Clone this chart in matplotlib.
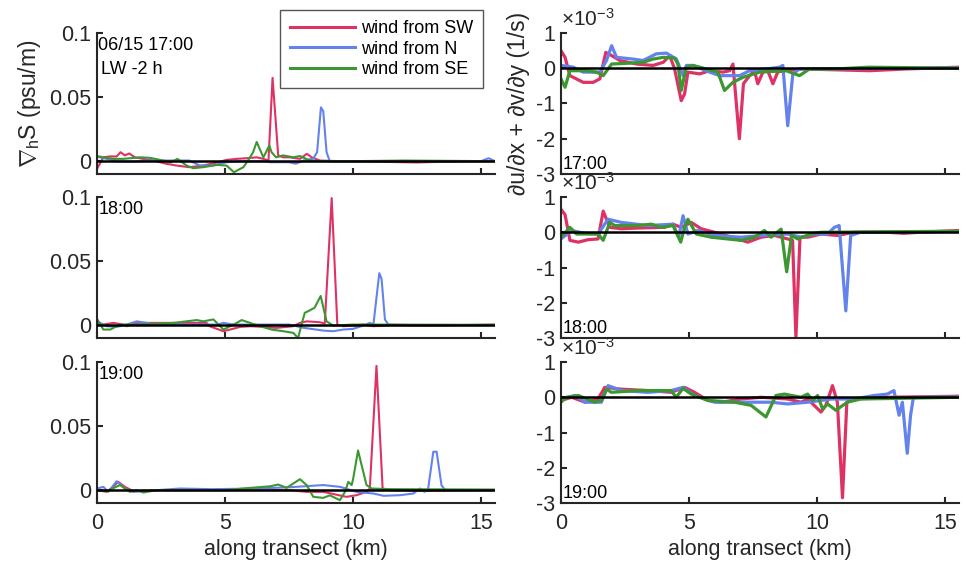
import matplotlib
matplotlib.use("Agg")
import matplotlib.pyplot as plt

plt.rcParams['font.family'] = ['Liberation Sans', 'DejaVu Sans']
plt.rcParams['mathtext.fontset'] = 'custom'
plt.rcParams['mathtext.rm'] = 'Liberation Sans'
plt.rcParams['mathtext.it'] = 'Liberation Sans:italic'
plt.rcParams['axes.unicode_minus'] = False

# salinity gradient (psu/m), 17:00
g17_sw_x = [0, 0.25, 0.5, 0.77, 0.92, 1.09, 1.26, 1.48, 1.8, 2.2, 2.7, 3.1, 3.6, 4.15, 4.7, 5.06, 5.45, 5.85, 6.24, 6.5, 6.7, 6.86, 7.08, 7.28, 7.54, 7.93, 8.2, 8.39, 8.71, 9.5, 11.0, 12.5, 13.5, 15.55]
g17_sw_y = [-0.006, 0.003, 0.0037, 0.0037, 0.007, 0.0045, 0.006, 0.003, 0.0018, 0.0005, -0.002, -0.0034, -0.0047, -0.0034, -0.001, 0.001, 0.0018, 0.0023, 0.003, 0.0018, 0.0005, 0.065, 0.0045, 0.003, 0.003, 0.0018, 0.0057, 0.003, 0.0005, 0.0, -0.0005, -0.001, -0.0005, 0.0]
g17_n_x = [0, 0.38, 0.77, 1.4, 1.94, 2.5, 3.6, 4.02, 4.55, 5.06, 5.6, 6.5, 6.76, 7.5, 7.77, 8.06, 8.45, 8.6, 8.75, 8.84, 8.97, 9.1, 10, 12, 14, 15.0, 15.3, 15.55]
g17_n_y = [0.0035, 0.0018, 0.0, -0.0003, 0.0005, 0.0005, 0.0005, -0.0034, -0.0034, -0.0008, 0.0, 0.0, -0.0008, -0.0008, -0.002, 0.0005, 0.002, 0.007, 0.042, 0.039, 0.007, -0.0003, -0.0003, 0.0, -0.0003, 0.0, 0.0023, 0.0]
g17_se_x = [0, 0.25, 0.64, 1.03, 1.68, 2.07, 2.59, 2.9, 3.14, 3.5, 3.76, 4.15, 4.67, 5.06, 5.35, 5.72, 5.9, 6.1, 6.24, 6.5, 6.63, 6.73, 6.82, 7.0, 7.28, 7.67, 7.93, 8.32, 8.84, 10, 12, 15.55]
g17_se_y = [0.004, 0.003, 0.0018, 0.0018, 0.003, 0.0026, 0.0005, -0.0008, 0.0018, -0.0034, -0.0055, -0.0047, -0.0029, -0.0034, -0.0086, -0.0047, 0.0005, 0.007, 0.015, 0.003, 0.008, 0.0123, 0.007, 0.003, 0.0045, 0.003, 0.004, 0.0005, 0.0, 0.0, 0.0005, 0.0]

# 18:00
g18_sw_x = [0, 0.25, 0.64, 1.03, 1.16, 1.55, 2.5, 4.28, 4.4, 4.94, 5.2, 5.6, 6.0, 6.5, 7.0, 7.67, 7.93, 8.2, 8.71, 8.9, 9.17, 9.39, 9.62, 10.0, 10.4, 10.8, 11.5, 13, 15.55]
g18_sw_y = [0.0018, 0.0005, 0.0018, 0.0005, -0.0008, 0.0018, 0.0018, 0.0018, -0.0008, -0.0047, -0.0034, -0.0013, -0.0008, -0.0013, -0.0021, -0.0008, 0.0018, 0.003, 0.0023, 0.0013, 0.0992, 0.0005, -0.0008, -0.0003, 0.0005, -0.0008, 0.0, -0.0003, 0.0005]
g18_n_x = [0, 0.38, 0.77, 1.16, 1.55, 1.94, 2.33, 4.7, 4.94, 5.33, 7.5, 8.06, 8.84, 9.23, 9.62, 10.0, 10.4, 10.66, 10.8, 11.03, 11.12, 11.25, 11.38, 12.5, 15.55]
g18_n_y = [0.003, -0.0008, -0.0013, 0.0005, 0.003, 0.0018, 0.0005, 0.0005, 0.0018, 0.0005, 0.0005, -0.002, -0.0042, -0.0047, -0.0034, -0.0029, -0.0003, 0.0018, 0.0005, 0.0406, 0.036, 0.0045, 0.0005, 0.0, 0.0]
g18_se_x = [0, 0.25, 0.52, 0.9, 1.68, 3.0, 3.9, 4.15, 4.55, 4.94, 5.46, 5.65, 5.98, 6.37, 6.82, 7.28, 7.67, 7.86, 7.99, 8.12, 8.26, 8.5, 8.74, 8.97, 9.23, 10.0, 15.55]
g18_se_y = [0.005, -0.0034, -0.0034, 0.0005, 0.0005, 0.0018, 0.004, 0.003, 0.0045, -0.0034, 0.0018, 0.004, 0.0018, -0.0008, -0.0034, -0.0047, -0.006, -0.01, 0.0005, 0.0097, 0.011, 0.0136, 0.0228, 0.003, -0.0003, 0.0005, 0.0003]

# 19:00
g19_sw_x = [0, 0.38, 0.6, 0.83, 1.09, 1.42, 2.5, 5.0, 7.54, 8.19, 8.84, 9.75, 10.14, 10.53, 10.66, 10.92, 11.16, 11.45, 12.75, 15.55]
g19_sw_y = [0.0, -0.0013, 0.002, 0.0065, 0.0026, -0.0008, 0.0, 0.0, 0.0, -0.0013, -0.0013, -0.0052, -0.0039, -0.0013, 0.0013, 0.097, 0.0013, 0.0, -0.0005, 0.0]
g19_n_x = [0, 0.25, 0.44, 0.77, 1.09, 1.42, 2.33, 3.24, 4.5, 6.24, 7.54, 8.84, 9.5, 10.14, 10.8, 11.2, 11.84, 12.36, 12.62, 12.8, 12.94, 13.14, 13.27, 13.46, 13.6, 15.55]
g19_n_y = [0.0013, 0.0026, -0.0013, 0.007, 0.0013, -0.0013, 0.0, 0.0013, 0.0008, 0.0013, 0.0023, 0.004, 0.0026, -0.0013, -0.0026, -0.0044, -0.0039, -0.0026, 0.0013, -0.0013, 0.0013, 0.030, 0.030, 0.0039, 0.0, 0.0]
g19_se_x = [0, 0.38, 0.9, 1.29, 1.55, 1.81, 2.33, 5.0, 5.98, 6.76, 7.08, 7.41, 7.93, 8.19, 8.45, 8.84, 9.1, 9.49, 9.69, 9.82, 9.95, 10.01, 10.2, 10.34, 10.53, 10.73, 11.5, 15.55]
g19_se_y = [0.0, -0.0008, 0.004, -0.0013, 0.0, -0.0018, 0.0, 0.0, 0.0018, 0.003, 0.0044, 0.0018, 0.0086, 0.004, -0.0052, -0.006, -0.004, -0.0078, -0.0013, 0.0065, 0.004, 0.009, 0.031, 0.0195, 0.004, 0.0013, 0.0008, 0.0005]

# divergence, in units of 1e-3 1/s, 17:00
d17_sw_x = [0, 0.16, 0.35, 0.87, 1.26, 1.52, 1.75, 1.98, 2.3, 2.95, 3.6, 4.0, 4.25, 4.44, 4.7, 4.83, 4.96, 5.42, 5.81, 6.33, 6.59, 6.72, 6.97, 7.13, 7.37, 7.56, 7.69, 7.89, 8.08, 8.28, 8.47, 8.67, 9.45, 12.05, 13.5, 15.55]
d17_sw_y = [0.5, 0.31, -0.21, -0.4, -0.4, -0.3, 0.45, 0.36, 0.22, 0.12, 0.08, 0.17, 0.36, -0.02, -0.92, -0.73, -0.11, -0.16, -0.07, -0.11, -0.07, 0.12, -2.0, -0.44, -0.21, -0.07, -0.44, -0.11, -0.07, -0.44, -0.11, -0.07, -0.02, -0.07, -0.02, 0.03]
d17_n_x = [0, 0.48, 0.87, 1.52, 1.78, 1.98, 2.17, 2.82, 3.21, 3.73, 4.12, 4.51, 4.77, 4.9, 5.16, 5.81, 6.2, 6.98, 7.37, 8.02, 8.54, 8.67, 8.86, 9.06, 9.32, 15.55]
d17_n_y = [0.08, 0.03, -0.11, -0.11, 0.22, 0.64, 0.31, 0.26, 0.22, 0.41, 0.43, 0.26, -0.21, 0.08, 0.08, -0.11, -0.21, -0.21, -0.07, -0.02, 0.03, 0.08, -1.63, -0.16, -0.02, 0.01]
d17_se_x = [0, 0.16, 0.35, 1.0, 1.39, 1.65, 1.98, 2.56, 3.21, 3.6, 4.0, 4.44, 4.57, 4.7, 4.9, 5.16, 5.68, 6.13, 6.39, 6.72, 7.1, 7.76, 8.8, 9.32, 9.71, 10.75, 12.0, 15.55]
d17_se_y = [-0.3, -0.54, -0.07, -0.07, -0.11, -0.21, 0.12, 0.14, 0.17, 0.26, 0.31, 0.29, 0.12, -0.63, 0.03, 0.08, -0.02, -0.11, -0.63, -0.4, -0.26, -0.11, -0.07, -0.21, -0.02, -0.02, 0.03, 0.0]

# 18:00
d18_sw_x = [0, 0.16, 0.35, 0.68, 1.06, 1.45, 1.65, 1.91, 2.36, 3.0, 4.05, 4.38, 4.7, 5.09, 5.48, 6.26, 7.3, 7.82, 8.34, 8.86, 9.05, 9.18, 9.34, 9.64, 10.16, 10.8, 11.45, 12.75, 13.4, 14.0, 15.55]
d18_sw_y = [0.65, 0.5, -0.23, -0.28, -0.21, -0.19, 0.6, 0.14, 0.1, 0.12, 0.14, 0.23, 0.14, 0.28, 0.1, -0.05, -0.28, -0.14, -0.09, -0.19, -0.23, -2.98, -0.14, -0.14, -0.05, -0.09, 0.0, 0.0, -0.03, 0.0, 0.05]
d18_n_x = [0, 0.42, 0.94, 1.45, 1.84, 2.36, 3.4, 4.38, 4.6, 4.77, 4.96, 5.35, 6.0, 7.04, 7.82, 8.86, 9.38, 9.9, 10.42, 10.68, 10.87, 11.13, 11.32, 11.71, 15.55]
d18_n_y = [-0.19, 0.05, -0.03, -0.05, 0.37, 0.28, 0.19, 0.23, -0.14, 0.47, -0.05, 0.05, -0.09, -0.14, -0.09, -0.05, -0.14, -0.05, -0.05, 0.14, 0.19, -2.23, -0.09, 0.0, 0.02]
d18_se_x = [0, 0.35, 0.61, 1.45, 1.65, 1.91, 2.1, 3.0, 3.53, 3.92, 4.38, 4.68, 4.83, 4.96, 5.29, 5.87, 7.04, 7.56, 7.95, 8.21, 8.6, 8.82, 9.01, 9.25, 9.77, 10.16, 15.55]
d18_se_y = [-0.14, 0.14, -0.05, -0.05, -0.23, 0.28, 0.19, 0.19, 0.23, 0.14, 0.19, -0.28, 0.14, 0.37, -0.05, -0.14, -0.23, -0.14, 0.05, -0.14, 0.09, -1.12, -0.09, -0.19, -0.05, 0.0, 0.03]

# 19:00
d19_sw_x = [0, 0.42, 0.94, 1.45, 1.71, 2.36, 3.4, 4.3, 4.83, 5.22, 5.74, 6.26, 7.04, 7.82, 8.86, 9.38, 9.64, 10.16, 10.35, 10.61, 10.8, 11.0, 11.17, 11.45, 12.75, 15.55]
d19_sw_y = [-0.09, 0.0, -0.14, -0.05, 0.28, 0.23, 0.19, 0.14, 0.28, 0.14, -0.09, -0.14, -0.05, 0.0, -0.05, -0.14, -0.05, -0.42, -0.23, 0.33, -0.14, -2.85, -0.14, -0.05, 0.0, 0.03]
d19_n_x = [0, 0.55, 0.94, 1.58, 1.84, 2.36, 3.4, 4.3, 4.77, 5.22, 6.0, 7.04, 8.21, 8.86, 9.64, 10.55, 11.45, 12.23, 12.75, 13.01, 13.21, 13.34, 13.53, 13.66, 13.77, 15.55]
d19_n_y = [-0.05, 0.05, -0.14, -0.14, 0.33, 0.19, 0.14, 0.19, 0.28, 0.05, -0.14, -0.14, -0.14, -0.19, -0.14, -0.05, -0.05, 0.05, 0.09, 0.19, -0.51, -0.14, -1.59, -0.51, 0.0, 0.01]
d19_se_x = [0, 0.22, 0.68, 1.32, 1.58, 1.78, 1.97, 3.0, 4.3, 4.5, 4.77, 5.09, 5.74, 6.78, 7.43, 8.01, 8.4, 8.73, 9.38, 9.64, 9.83, 10.03, 10.22, 10.42, 10.74, 11.19, 11.71, 15.55]
d19_se_y = [-0.14, 0.0, 0.05, -0.14, -0.09, 0.23, 0.14, 0.19, 0.19, 0.0, 0.25, 0.09, -0.09, -0.14, -0.23, -0.56, 0.05, 0.09, 0.0, 0.09, -0.09, 0.05, -0.33, -0.19, -0.37, -0.14, -0.05, 0.0]

times = ["17:00", "18:00", "19:00"]
labels = ["wind from SW", "wind from N", "wind from SE"]
colors = ["#DE3264", "#6482EB", "#3C9632"]

grad = [[(g17_sw_x, g17_sw_y), (g17_n_x, g17_n_y), (g17_se_x, g17_se_y)],
        [(g18_sw_x, g18_sw_y), (g18_n_x, g18_n_y), (g18_se_x, g18_se_y)],
        [(g19_sw_x, g19_sw_y), (g19_n_x, g19_n_y), (g19_se_x, g19_se_y)]]
div = [[(d17_sw_x, d17_sw_y), (d17_n_x, d17_n_y), (d17_se_x, d17_se_y)],
       [(d18_sw_x, d18_sw_y), (d18_n_x, d18_n_y), (d18_se_x, d18_se_y)],
       [(d19_sw_x, d19_sw_y), (d19_n_x, d19_n_y), (d19_se_x, d19_se_y)]]

axcol = '#262626'
fs = 15.5
fig = plt.figure(figsize=(9.66, 5.66), dpi=100)
lefts = [0.1004, 0.5807]
bottoms = [0.6926, 0.4028, 0.1113]
w, h = 0.412, 0.2491


def style(ax, last):
    for s in ['top', 'right']:
        ax.spines[s].set_visible(False)
    for s in ['left', 'bottom']:
        ax.spines[s].set_linewidth(1.5)
        ax.spines[s].set_color(axcol)
    ax.tick_params(direction='in', length=4, width=1.5, colors=axcol, labelsize=fs)
    ax.tick_params(axis='y', pad=4)
    ax.tick_params(axis='x', pad=7)
    ax.set_xlim(0, 15.55)
    ax.set_xticks([0, 5, 10, 15])
    if last:
        ax.set_xlabel('along transect (km)', fontsize=fs, color=axcol)
    else:
        ax.tick_params(labelbottom=False)


handles = []
for i in range(3):
    # left column: salinity gradient
    ax = fig.add_axes([lefts[0], bottoms[i], w, h])
    for j in range(3):
        x, y = grad[i][j]
        ln, = ax.plot(x, y, color=colors[j], lw=1.5)
        if i == 0:
            handles.append(ln)
    ax.axhline(0, color='k', lw=1.8, zorder=5)
    ax.set_ylim(-0.01, 0.1)
    ax.set_yticks([0, 0.05, 0.1])
    ax.set_yticklabels(['0', '0.05', '0.1'])
    style(ax, i == 2)
    if i == 0:
        ax.text(0.003, 0.975, '06/15 17:00', transform=ax.transAxes, fontsize=13, va='top', ha='left')
        ax.text(0.01, 0.80, 'LW -2 h', transform=ax.transAxes, fontsize=13, va='top', ha='left')
        ax.set_ylabel(r'$\nabla_{\mathrm{h}}$S (psu/m)', fontsize=16.5, color=axcol)
        ax.yaxis.set_label_coords(-0.135, 0.5)
    else:
        ax.text(0.003, 0.975, times[i], transform=ax.transAxes, fontsize=13, va='top', ha='left')

    # right column: divergence
    ax = fig.add_axes([lefts[1], bottoms[i], w, h])
    for j in range(3):
        x, y = div[i][j]
        ax.plot(x, y, color=colors[j], lw=2.3)
    ax.axhline(0, color='k', lw=1.8, zorder=5)
    ax.set_ylim(-3, 1)
    ax.set_yticks([-3, -2, -1, 0, 1])
    ax.set_yticklabels(['-3', '-2', '-1', '0', '1'])
    style(ax, i == 2)
    ax.text(0.005, 0.01, times[i], transform=ax.transAxes, fontsize=13, va='bottom', ha='left')
    ax.text(0.0, 1.025, r'$\times$10$^{-3}$', transform=ax.transAxes, fontsize=15, va='bottom',
            ha='left', color=axcol)
    if i == 0:
        ax.set_ylabel('∂u/∂x + ∂v/∂y (1/s)', fontsize=16.5, color=axcol)
        ax.yaxis.set_label_coords(-0.078, 0.5)

leg = fig.legend(handles, labels, loc='upper right', bbox_to_anchor=(0.5, 0.982), fontsize=13,
                 fancybox=False, framealpha=1, edgecolor='#555555', borderpad=0.55,
                 labelspacing=0.2, handlelength=3.6, handletextpad=0.35, borderaxespad=0)
leg.get_frame().set_linewidth(1.0)
for l in leg.get_lines():
    l.set_linewidth(2.2)

fig.savefig('out.png', dpi=100)
